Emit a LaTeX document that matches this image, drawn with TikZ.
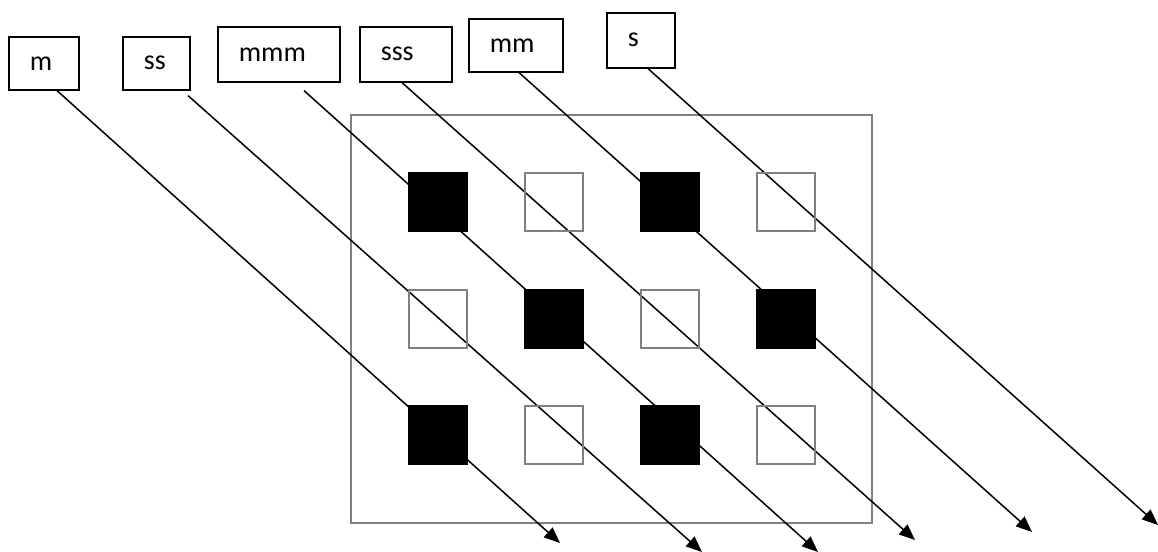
\documentclass[tikz,border=0pt]{standalone}
\usepackage{fontspec}
\setmainfont{Carlito}
\usetikzlibrary{positioning,arrows.meta}
\usepackage{xcolor}

\begin{document}
\begin{tikzpicture}[x=1pt,y=-1pt,
  lbl/.style={draw, line width=1.6pt, anchor=north west, inner xsep=21pt,
    inner ysep=0pt, text width=#1, align=left, minimum height=53pt,
    font=\fontsize{28}{30}\selectfont},
  ray/.style={-{Triangle[length=16pt,width=13pt]}, line width=1.5pt},
  cell/.style={draw=gray, line width=1.5pt, minimum size=58pt, inner sep=0pt},
  frame/.style={draw=gray, line width=1.6pt}]
  \useasboundingbox (0,0) rectangle (1158,551);
  % labels
  \node[lbl=28pt] (lm) at (8,36) {m};
  \node[lbl=25pt] (lss) at (122,36) {ss};
  \node[lbl=80pt, minimum height=55pt] (lmmm) at (217,26) {mmm};
  \node[lbl=50pt, minimum height=55pt] (lsss) at (359,26) {sss};
  \node[lbl=52pt] (lmm) at (468,18) {mm};
  \node[lbl=26pt, minimum height=55pt] (ls) at (606,12) {s};
  % arrow ends
  \coordinate (tm) at (560,543);
  \coordinate (tss) at (702,552);
  \coordinate (tmmm) at (818,552);
  \coordinate (tsss) at (915,540);
  \coordinate (tmm) at (1032,532);
  \coordinate (ts) at (1158,525);
  % frame
  \draw[frame] (351,115) rectangle (872,523);
  % rays
  \draw[ray] ([xshift=49pt]lm.south west) -- (tm);
  \draw[ray] ([shift={(66,5)}]lss.south west) -- (tss);
  \draw[ray] ([shift={(87,8)}]lmmm.south west) -- (tmmm);
  \draw[ray] ([xshift=43pt]lsss.south west) -- (tsss);
  \draw[ray] ([xshift=51pt]lmm.south west) -- (tmm);
  \draw[ray] ([xshift=42pt]ls.south west) -- (ts);
  % cells
  \foreach \x/\y [count=\i] in {554/202,786/202,438/319,670/319,554/435,786/435}
    \node[cell] (w\i) at (\x,\y) {};
  \foreach \x/\y [count=\i] in {438/202,670/202,554/319,786/319,438/435,670/435}
    \node[cell, draw=black, fill=black] (b\i) at (\x,\y) {};
\end{tikzpicture}
\end{document}
